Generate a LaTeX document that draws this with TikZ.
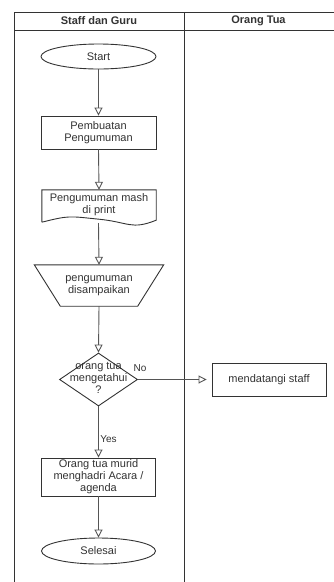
\documentclass[tikz,border=0pt]{standalone}
\usepackage{fontspec}
\setmainfont{Liberation Sans}
\usetikzlibrary{arrows.meta,shapes.geometric}
\definecolor{lineC}{HTML}{333333}
\definecolor{connC}{HTML}{555555}
\definecolor{textC}{HTML}{333333}
\tikzset{
  every node/.style={text=textC, font=\fontsize{11}{12}\selectfont},
  shapebox/.style={draw=lineC, line width=0.9pt, fill=white, rectangle, inner sep=0pt, align=center},
  termbox/.style={draw=lineC, line width=0.9pt, fill=white, ellipse, inner sep=0pt, minimum width=115pt, minimum height=25pt},
  plainbox/.style={rectangle, inner sep=0pt, align=center},
  flow/.style={draw=connC, line width=0.9pt, -{Triangle[open, length=8pt, width=8pt]}},
  lane/.style={draw=lineC, line width=0.9pt},
  lbl/.style={inner sep=0pt, font=\fontsize{10}{11}\selectfont}
}
\begin{document}
\begin{tikzpicture}[x=1pt,y=-1pt]
\useasboundingbox (0,0) rectangle (333,582);
% swimlanes
\draw[lane] (14,582) -- (14,12) -- (340,12);
\draw[lane] (14,30) -- (340,30);
\draw[lane] (184,12) -- (184,582);
\node[font=\bfseries\fontsize{11}{12}\selectfont] (h1) at (99,21) {Staff dan Guru};
\node[font=\bfseries\fontsize{11}{12}\selectfont] (h2) at (258.5,21) {Orang Tua};
% nodes
\node[termbox] (start) at (98.5,56.5) {Start};
\node[shapebox, minimum width=115pt, minimum height=33pt] (pemb) at (98.5,132.5) {Pembuatan\\Pengumuman};
% document
\node[plainbox, minimum width=114pt, minimum height=32pt] (doc) at (99,206) {};
\fill[white] (doc.north west) -- (doc.north east) -- (doc.south east)
  .. controls +(-30pt,-10pt) and +(30pt,-2pt) .. (doc.south)
  .. controls +(-30pt,2pt) and +(30pt,8pt) .. (doc.south west) -- cycle;
\draw[lineC, line width=0.9pt] (doc.south west) -- (doc.north west) -- (doc.north east) -- ([yshift=2pt]doc.south east)
  .. controls +(-25pt,-10pt) and +(30pt,-3pt) .. ([yshift=3pt]doc.south)
  .. controls +(-30pt,3pt) and +(28pt,7pt) .. (doc.south west);
\node[plainbox] (doctext) at (99,205) {Pengumuman mash\\di print};
\coordinate (docb) at (98.5,223);
% manual operation trapezoid
\node[plainbox, minimum width=129pt, minimum height=41pt] (trap) at (99,285.5) {};
\draw[lineC, line width=0.9pt, fill=white] (trap.north west) -- (trap.north east) -- ([xshift=-26pt]trap.south east) -- ([xshift=26pt]trap.south west) -- cycle;
\node[plainbox] (traptext) at (99,285.5) {pengumuman\\disampaikan};
% decision
\node[draw=lineC, line width=0.9pt, fill=white, diamond, inner sep=0pt, minimum width=78pt, minimum height=53pt] (dia) at (98.5,379.5) {};
\node[plainbox] (diatext) at (98.5,378) {orang tua\\mengetahui\\?};
\node[shapebox, minimum width=114pt, minimum height=33pt] (staff) at (269,379.5) {mendatangi staff};
\node[shapebox, minimum width=114pt, minimum height=38pt] (hadir) at (98.5,477) {Orang tua murid\\menghadri Acara /\\agenda};
\node[termbox, minimum width=114pt, minimum height=26pt] (selesai) at (98.5,551) {Selesai};
% connectors
\draw[flow] (start.south) -- (pemb.north);
\draw[flow] (pemb.south) -- (doc.north);
\draw[flow] (docb) -- (trap.north);
\draw[flow] (trap.south) -- (dia.north);
\draw[flow, shorten >=5pt] (dia.east) -- (staff.west);
\node[lbl] (nolbl) at (140,368) {No};
\draw[flow] (dia.south) -- (hadir.north);
\node[lbl, fill=white] (yeslbl) at (108.5,439) {Yes};
\draw[flow] (hadir.south) -- (selesai.north);
\end{tikzpicture}
\end{document}
